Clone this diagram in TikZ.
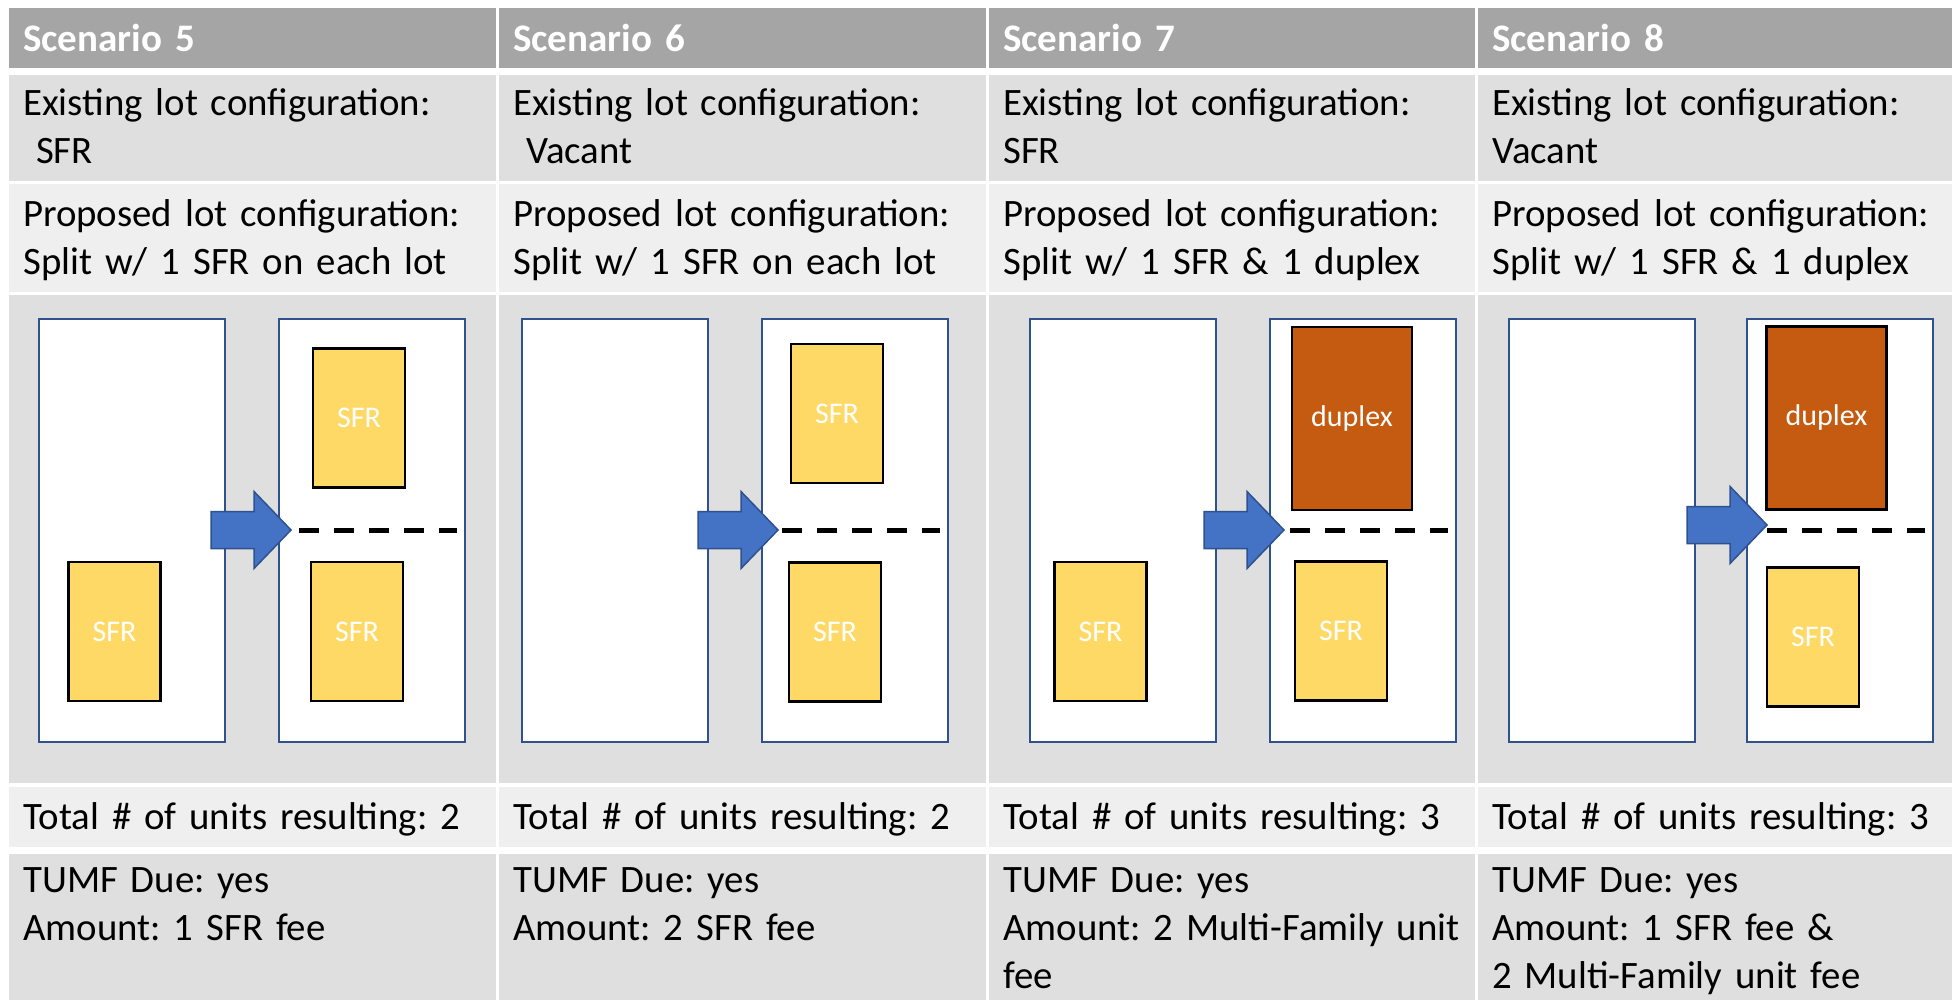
\documentclass[tikz,border=0pt]{standalone}
\usepackage{fontspec}
\setmainfont{Carlito}
\usepackage{xcolor}
\usetikzlibrary{positioning,calc}
\frenchspacing

\definecolor{headgray}{HTML}{A5A5A5}
\definecolor{banddark}{HTML}{DFDFDF}
\definecolor{bandlight}{HTML}{EFEFEF}
\definecolor{lotblue}{HTML}{2F528F}
\definecolor{arrowblue}{HTML}{4472C4}
\definecolor{sfryellow}{HTML}{FFD966}
\definecolor{duplexorange}{HTML}{C55A11}

\tikzset{
  celltext/.style={anchor=base west, inner sep=0pt, text width=472pt, align=left, font=\fontsize{38.8}{48}\selectfont},
  headtext/.style={celltext, text=white, font=\fontsize{39}{48}\selectfont\bfseries},
  lot/.style={rectangle, draw=lotblue, line width=2.5pt, fill=white, minimum width=186pt, minimum height=423pt, inner sep=0pt, outer sep=0pt},
  house/.style={rectangle, draw=black, line width=2.5pt, inner sep=0pt, text=white, font=\fontsize{30}{36}\selectfont},
  sfr/.style={house, fill=sfryellow, minimum width=92pt, minimum height=139pt},
  duplex/.style={house, fill=duplexorange, minimum width=120pt, minimum height=183pt},
  splitline/.style={line width=4.7pt, dash pattern=on 20pt off 15pt},
  pics/splitarrow/.style={code={
    \filldraw[fill=arrowblue, draw=lotblue, line width=1.5pt] (-80,-18.5) -- (-37,-18.5) -- (-37,-38.5) -- (0,0) -- (-37,38.5) -- (-37,18.5) -- (-80,18.5) -- cycle;
  }}
}

\begin{document}
\begin{tikzpicture}[x=1pt, y=-1pt]
    \useasboundingbox (0,0) rectangle (1952,1000);
    % Table bands
    \fill[white] (0,0) rectangle (1952,1000);
    \fill[headgray]  (9,8)   rectangle (1952,68);
    \fill[banddark]  (9,75)  rectangle (1952,181);
    \fill[bandlight] (9,184) rectangle (1952,292);
    \fill[banddark]  (9,295) rectangle (1952,783);
    \fill[bandlight] (9,787) rectangle (1952,847);
    \fill[banddark]  (9,854) rectangle (1952,1000);
    \draw[white, line width=3pt] (497.5,8) -- (497.5,1000);
    \draw[white, line width=3pt] (987.5,8) -- (987.5,1000);
    \draw[white, line width=3pt] (1476.5,8) -- (1476.5,1000);

    %Lots
    \node (s5lotA) [lot] at (132,530.5)  {};
    \node (s5lotB) [lot, right=54pt of s5lotA] {};
    \node (s6lotA) [lot] at (615,530.5)  {};
    \node (s6lotB) [lot, right=54pt of s6lotA] {};
    \node (s7lotA) [lot] at (1123,530.5) {};
    \node (s7lotB) [lot, right=54pt of s7lotA] {};
    \node (s8lotA) [lot] at (1602,530.5) {};
    \node (s8lotB) [lot, right=52pt of s8lotA] {};

    %Houses
    \node (s5sfrA)    [sfr]    at (114.5,631.5) {SFR};
    \node (s5sfrTop)  [sfr]    at (359,418)     {SFR};
    \node (s5sfrBot)  [sfr]    at (357,631.5)   {SFR};
    \node (s6sfrTop)  [sfr]    at (837,413.5)   {SFR};
    \node (s6sfrBot)  [sfr]    at (835,632)     {SFR};
    \node (s7sfrA)    [sfr]    at (1100.5,631.5) {SFR};
    \node (s7duplex)  [duplex] at (1352,418.5)  {duplex};
    \node (s7sfrBot)  [sfr]    at (1341,631)    {SFR};
    \node (s8duplex)  [duplex] at (1826.5,418)  {duplex};
    \node (s8sfrBot)  [sfr]    at (1813,637)    {SFR};

    %Arrows
    \pic at (291,530)  {splitarrow};
    \pic at (778,530)  {splitarrow};
    \pic at (1284,530) {splitarrow};
    \pic at (1767,525) {splitarrow};

    %Split lines
    \draw[splitline] ([xshift=20pt]s5lotB.west) -- ([xshift=-8pt]s5lotB.east);
    \draw[splitline] ([xshift=20pt]s6lotB.west) -- ([xshift=-8pt]s6lotB.east);
    \draw[splitline] ([xshift=20pt]s7lotB.west) -- ([xshift=-8pt]s7lotB.east);
    \draw[splitline] ([xshift=20pt]s8lotB.west) -- ([xshift=-8pt]s8lotB.east);

    % Header texts
    \node (s5head) [headtext] at (23,52)   {Scenario 5};
    \node (s6head) [headtext] at (513,52)  {Scenario 6};
    \node (s7head) [headtext] at (1003,52) {Scenario 7};
    \node (s8head) [headtext] at (1492,52) {Scenario 8};

    % Cell texts
    \node (s5exist) [celltext] at (23,116)   {Existing lot configuration:\\\mbox{}\ SFR};
    \node (s6exist) [celltext] at (513,116)  {Existing lot configuration:\\\mbox{}\ Vacant};
    \node (s7exist) [celltext] at (1003,116) {Existing lot configuration:\\SFR};
    \node (s8exist) [celltext] at (1492,116) {Existing lot configuration:\\Vacant};

    \node (s5prop) [celltext] at (23,227)   {Proposed lot configuration:\\Split w/ 1 SFR on each lot};
    \node (s6prop) [celltext] at (513,227)  {Proposed lot configuration:\\Split w/ 1 SFR on each lot};
    \node (s7prop) [celltext] at (1003,227) {Proposed lot configuration:\\Split w/ 1 SFR \& 1 duplex};
    \node (s8prop) [celltext] at (1492,227) {Proposed lot configuration:\\Split w/ 1 SFR \& 1 duplex};

    \node (s5total) [celltext] at (23,829)   {Total \# of units resulting: 2};
    \node (s6total) [celltext] at (513,829)  {Total \# of units resulting: 2};
    \node (s7total) [celltext] at (1003,829) {Total \# of units resulting: 3};
    \node (s8total) [celltext] at (1492,829) {Total \# of units resulting: 3};

    \node (s5fee) [celltext] at (23,892)   {TUMF Due: yes\\Amount: 1 SFR fee};
    \node (s6fee) [celltext] at (513,892)  {TUMF Due: yes\\Amount: 2 SFR fee};
    \node (s7fee) [celltext] at (1003,892) {TUMF Due: yes\\Amount: 2 Multi-Family unit\\fee};
    \node (s8fee) [celltext] at (1492,892) {TUMF Due: yes\\Amount: 1 SFR fee \&\\2 Multi-Family unit fee};
\end{tikzpicture}
\end{document}
